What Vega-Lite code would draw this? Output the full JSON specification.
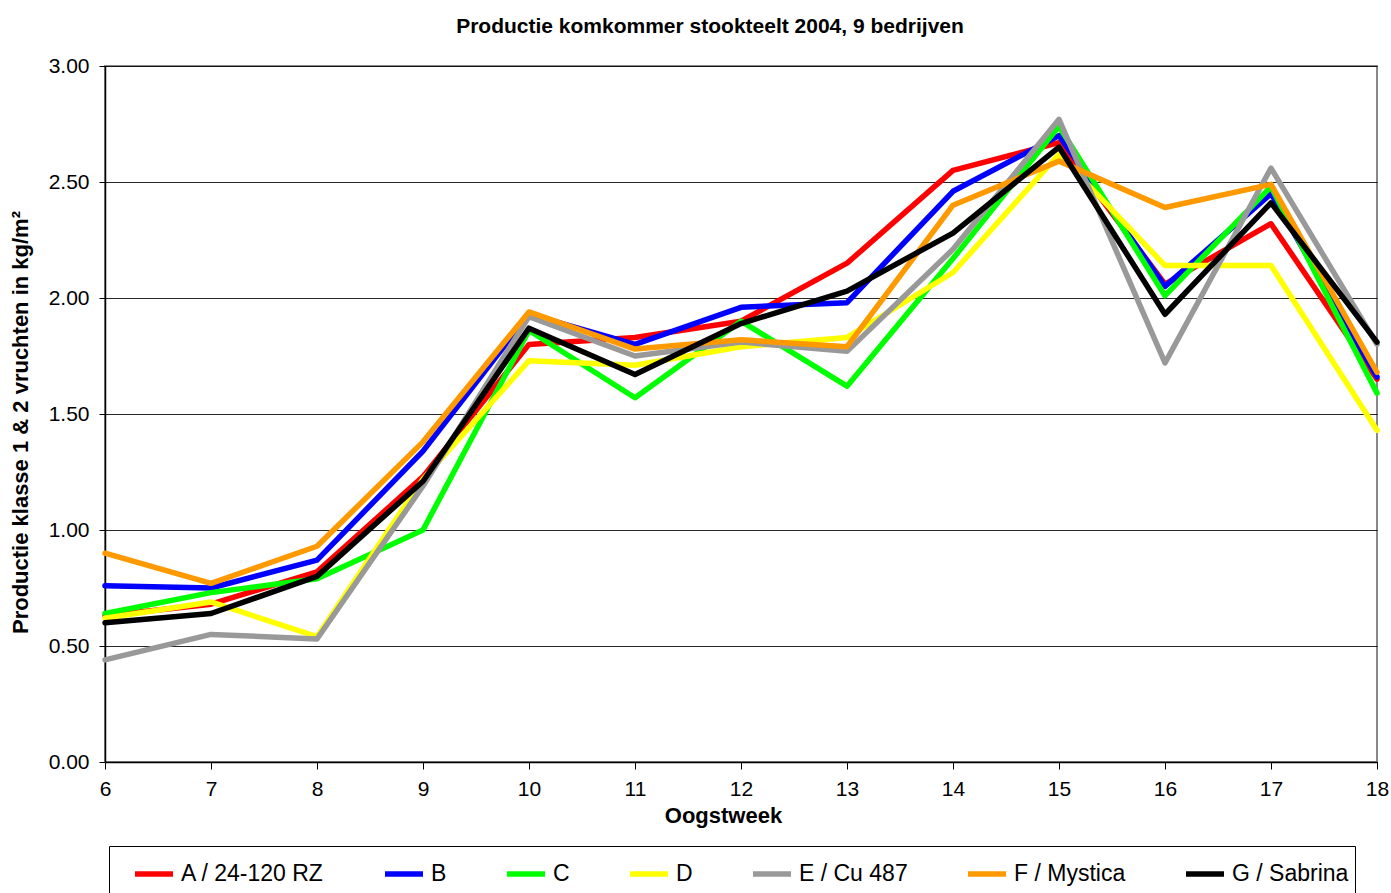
{
  "$schema": "https://vega.github.io/schema/vega-lite/v6.json",
  "autosize": {"type": "none"},
  "width": 1272,
  "height": 696,
  "padding": {"left": 105, "top": 66, "right": 14, "bottom": 131},
  "background": "white",
  "title": {
    "text": "Productie komkommer stookteelt 2004, 9 bedrijven",
    "font": "Liberation Sans",
    "fontSize": 21,
    "fontWeight": "bold",
    "color": "black",
    "anchor": "middle",
    "frame": "group",
    "dx": -31,
    "offset": 18
  },
  "config": {
    "font": "Liberation Sans",
    "view": {"stroke": "#888888", "strokeWidth": 2}
  },
  "data": {
    "values": [
      {"week": 6, "serie": "A / 24-120 RZ", "waarde": 0.63},
      {"week": 7, "serie": "A / 24-120 RZ", "waarde": 0.68},
      {"week": 8, "serie": "A / 24-120 RZ", "waarde": 0.82},
      {"week": 9, "serie": "A / 24-120 RZ", "waarde": 1.23},
      {"week": 10, "serie": "A / 24-120 RZ", "waarde": 1.80},
      {"week": 11, "serie": "A / 24-120 RZ", "waarde": 1.83},
      {"week": 12, "serie": "A / 24-120 RZ", "waarde": 1.90},
      {"week": 13, "serie": "A / 24-120 RZ", "waarde": 2.15},
      {"week": 14, "serie": "A / 24-120 RZ", "waarde": 2.55},
      {"week": 15, "serie": "A / 24-120 RZ", "waarde": 2.67},
      {"week": 16, "serie": "A / 24-120 RZ", "waarde": 2.06},
      {"week": 17, "serie": "A / 24-120 RZ", "waarde": 2.32},
      {"week": 18, "serie": "A / 24-120 RZ", "waarde": 1.65},
      {"week": 6, "serie": "B", "waarde": 0.76},
      {"week": 7, "serie": "B", "waarde": 0.75},
      {"week": 8, "serie": "B", "waarde": 0.87},
      {"week": 9, "serie": "B", "waarde": 1.34},
      {"week": 10, "serie": "B", "waarde": 1.93},
      {"week": 11, "serie": "B", "waarde": 1.80},
      {"week": 12, "serie": "B", "waarde": 1.96},
      {"week": 13, "serie": "B", "waarde": 1.98},
      {"week": 14, "serie": "B", "waarde": 2.46},
      {"week": 15, "serie": "B", "waarde": 2.70},
      {"week": 16, "serie": "B", "waarde": 2.05},
      {"week": 17, "serie": "B", "waarde": 2.45},
      {"week": 18, "serie": "B", "waarde": 1.66},
      {"week": 6, "serie": "C", "waarde": 0.64},
      {"week": 7, "serie": "C", "waarde": 0.73},
      {"week": 8, "serie": "C", "waarde": 0.79},
      {"week": 9, "serie": "C", "waarde": 1.00},
      {"week": 10, "serie": "C", "waarde": 1.86},
      {"week": 11, "serie": "C", "waarde": 1.57},
      {"week": 12, "serie": "C", "waarde": 1.90},
      {"week": 13, "serie": "C", "waarde": 1.62},
      {"week": 14, "serie": "C", "waarde": 2.17},
      {"week": 15, "serie": "C", "waarde": 2.74},
      {"week": 16, "serie": "C", "waarde": 2.01},
      {"week": 17, "serie": "C", "waarde": 2.48},
      {"week": 18, "serie": "C", "waarde": 1.59},
      {"week": 6, "serie": "D", "waarde": 0.62},
      {"week": 7, "serie": "D", "waarde": 0.69},
      {"week": 8, "serie": "D", "waarde": 0.54},
      {"week": 9, "serie": "D", "waarde": 1.22},
      {"week": 10, "serie": "D", "waarde": 1.73},
      {"week": 11, "serie": "D", "waarde": 1.71},
      {"week": 12, "serie": "D", "waarde": 1.79},
      {"week": 13, "serie": "D", "waarde": 1.83},
      {"week": 14, "serie": "D", "waarde": 2.11},
      {"week": 15, "serie": "D", "waarde": 2.62},
      {"week": 16, "serie": "D", "waarde": 2.14},
      {"week": 17, "serie": "D", "waarde": 2.14},
      {"week": 18, "serie": "D", "waarde": 1.43},
      {"week": 6, "serie": "E / Cu 487", "waarde": 0.44},
      {"week": 7, "serie": "E / Cu 487", "waarde": 0.55},
      {"week": 8, "serie": "E / Cu 487", "waarde": 0.53},
      {"week": 9, "serie": "E / Cu 487", "waarde": 1.19},
      {"week": 10, "serie": "E / Cu 487", "waarde": 1.92},
      {"week": 11, "serie": "E / Cu 487", "waarde": 1.75},
      {"week": 12, "serie": "E / Cu 487", "waarde": 1.81},
      {"week": 13, "serie": "E / Cu 487", "waarde": 1.77},
      {"week": 14, "serie": "E / Cu 487", "waarde": 2.21},
      {"week": 15, "serie": "E / Cu 487", "waarde": 2.77},
      {"week": 16, "serie": "E / Cu 487", "waarde": 1.72},
      {"week": 17, "serie": "E / Cu 487", "waarde": 2.56},
      {"week": 18, "serie": "E / Cu 487", "waarde": 1.80},
      {"week": 6, "serie": "F / Mystica", "waarde": 0.90},
      {"week": 7, "serie": "F / Mystica", "waarde": 0.77},
      {"week": 8, "serie": "F / Mystica", "waarde": 0.93},
      {"week": 9, "serie": "F / Mystica", "waarde": 1.38},
      {"week": 10, "serie": "F / Mystica", "waarde": 1.94},
      {"week": 11, "serie": "F / Mystica", "waarde": 1.78},
      {"week": 12, "serie": "F / Mystica", "waarde": 1.82},
      {"week": 13, "serie": "F / Mystica", "waarde": 1.79},
      {"week": 14, "serie": "F / Mystica", "waarde": 2.40},
      {"week": 15, "serie": "F / Mystica", "waarde": 2.59},
      {"week": 16, "serie": "F / Mystica", "waarde": 2.39},
      {"week": 17, "serie": "F / Mystica", "waarde": 2.49},
      {"week": 18, "serie": "F / Mystica", "waarde": 1.68},
      {"week": 6, "serie": "G / Sabrina", "waarde": 0.60},
      {"week": 7, "serie": "G / Sabrina", "waarde": 0.64},
      {"week": 8, "serie": "G / Sabrina", "waarde": 0.80},
      {"week": 9, "serie": "G / Sabrina", "waarde": 1.21},
      {"week": 10, "serie": "G / Sabrina", "waarde": 1.87},
      {"week": 11, "serie": "G / Sabrina", "waarde": 1.67},
      {"week": 12, "serie": "G / Sabrina", "waarde": 1.89},
      {"week": 13, "serie": "G / Sabrina", "waarde": 2.03},
      {"week": 14, "serie": "G / Sabrina", "waarde": 2.28},
      {"week": 15, "serie": "G / Sabrina", "waarde": 2.65},
      {"week": 16, "serie": "G / Sabrina", "waarde": 1.93},
      {"week": 17, "serie": "G / Sabrina", "waarde": 2.41},
      {"week": 18, "serie": "G / Sabrina", "waarde": 1.81}
    ]
  },
  "mark": {"type": "line", "strokeWidth": 5.5, "strokeJoin": "round", "strokeCap": "round"},
  "encoding": {
    "x": {
      "field": "week",
      "type": "quantitative",
      "scale": {"domain": [6, 18], "nice": false, "zero": false},
      "axis": {
        "title": "Oogstweek",
        "values": [6, 7, 8, 9, 10, 11, 12, 13, 14, 15, 16, 17, 18],
        "format": "d",
        "grid": false,
        "labelFlush": false,
        "domainColor": "black",
        "domainWidth": 1.5,
        "tickColor": "black",
        "tickSize": 7,
        "labelFontSize": 21,
        "labelColor": "black",
        "labelPadding": 9,
        "titleFontSize": 22,
        "titleFontWeight": "bold",
        "titleColor": "black",
        "titleX": 618,
        "titleY": 53,
        "titleBaseline": "middle"
      }
    },
    "y": {
      "field": "waarde",
      "type": "quantitative",
      "scale": {"domain": [0, 3], "nice": false},
      "axis": {
        "title": "Productie klasse 1 & 2 vruchten in kg/m²",
        "values": [0, 0.5, 1, 1.5, 2, 2.5, 3],
        "format": ".2f",
        "grid": true,
        "gridColor": "black",
        "gridWidth": 1,
        "gridOpacity": 0.85,
        "domainColor": "black",
        "domainWidth": 1.5,
        "tickColor": "black",
        "tickSize": 6,
        "labelFontSize": 21,
        "labelColor": "black",
        "labelPadding": 10,
        "titleFontSize": 22,
        "titleFontWeight": "bold",
        "titleColor": "black",
        "titleX": -85,
        "titleY": 356,
        "titleAngle": -90,
        "titleAlign": "center",
        "titleBaseline": "middle"
      }
    },
    "color": {
      "field": "serie",
      "type": "nominal",
      "scale": {
        "domain": ["A / 24-120 RZ", "B", "C", "D", "E / Cu 487", "F / Mystica", "G / Sabrina"],
        "range": ["#FF0000", "#0000FF", "#00FF00", "#FFFF00", "#999999", "#FF9900", "#000000"]
      },
      "legend": {
        "title": " ",
        "titleOrient": "bottom",
        "titleFontSize": 20,
        "titlePadding": 0,
        "orient": "none",
        "legendX": 4,
        "legendY": 780,
        "direction": "horizontal",
        "columns": 7,
        "padding": 6,
        "strokeColor": "black",
        "fillColor": "white",
        "symbolType": "stroke",
        "symbolStrokeWidth": 5.5,
        "symbolSize": 1444,
        "symbolOffset": 17,
        "labelOffset": 5,
        "labelFontSize": 23,
        "labelColor": "black",
        "columnPadding": 40
      }
    }
  }
}
